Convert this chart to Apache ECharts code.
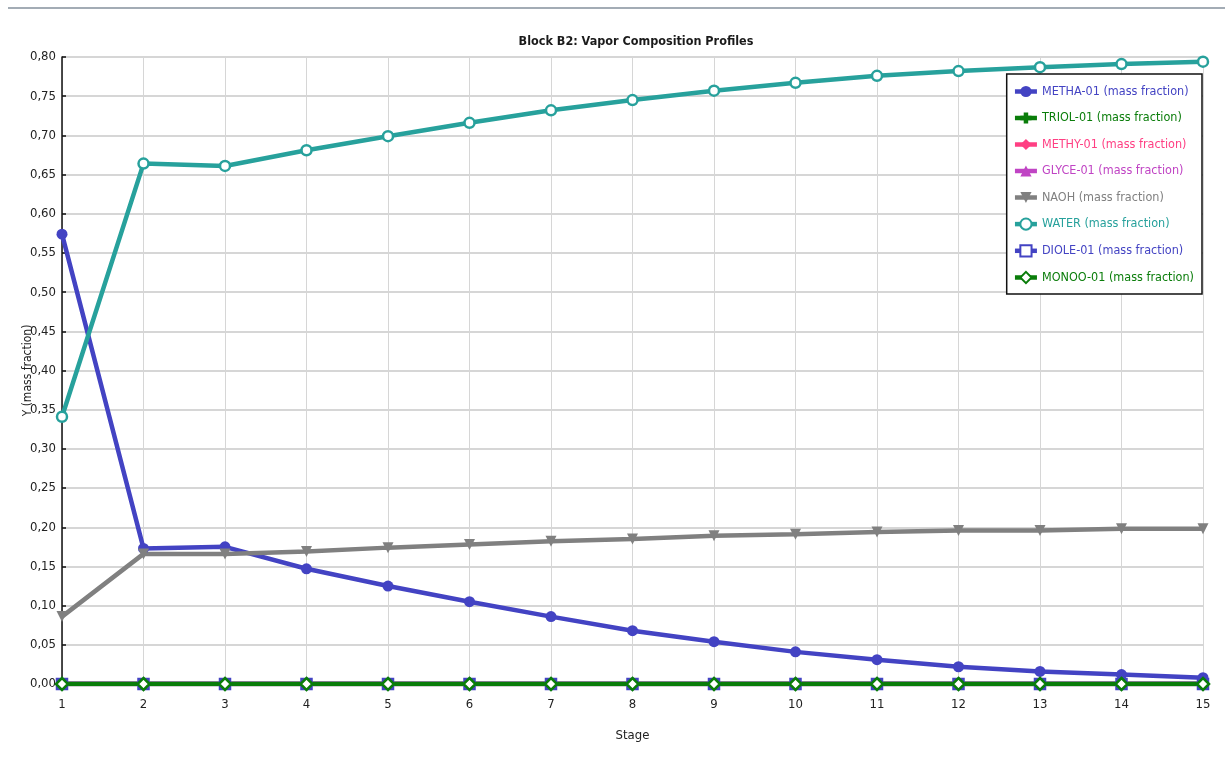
<!DOCTYPE html>
<html>
<head>
<meta charset="utf-8">
<script src="https://cdn.jsdelivr.net/npm/echarts@6/dist/echarts.min.js"></script>
<style>
  html, body { margin: 0; padding: 0; background: #fff; }
  #chart { width: 1225px; height: 760px; }
</style>
</head>
<body>
<div id="chart"></div>
<script>
var stages = [1, 2, 3, 4, 5, 6, 7, 8, 9, 10, 11, 12, 13, 14, 15];
var metha = [0.574, 0.173, 0.175, 0.147, 0.125, 0.105, 0.086, 0.068, 0.054, 0.041, 0.031, 0.022, 0.016, 0.012, 0.008];
var triol = [0, 0, 0, 0, 0, 0, 0, 0, 0, 0, 0, 0, 0, 0, 0];
var methy = [0, 0, 0, 0, 0, 0, 0, 0, 0, 0, 0, 0, 0, 0, 0];
var glyce = [0, 0, 0, 0, 0, 0, 0, 0, 0, 0, 0, 0, 0, 0, 0];
var naoh = [0.086, 0.166, 0.166, 0.169, 0.174, 0.178, 0.182, 0.185, 0.189, 0.191, 0.194, 0.196, 0.196, 0.198, 0.198];
var water = [0.341, 0.664, 0.661, 0.681, 0.699, 0.716, 0.732, 0.745, 0.757, 0.767, 0.776, 0.782, 0.787, 0.791, 0.794];
var diole = [0, 0, 0, 0, 0, 0, 0, 0, 0, 0, 0, 0, 0, 0, 0];
var monoo = [0, 0, 0, 0, 0, 0, 0, 0, 0, 0, 0, 0, 0, 0, 0];

var FONT = "'DejaVu Sans Condensed', 'Liberation Sans Narrow', 'Open Sans', sans-serif";
var plus = 'path://M3,0 H7 V3 H10 V7 H7 V10 H3 V7 H0 V3 H3 Z';

function pairs(vals) {
  return stages.map(function (s, i) { return [s, vals[i]]; });
}

function mk(name, vals, color, symbol, opts) {
  opts = opts || {};
  return {
    name: name,
    type: 'line',
    data: pairs(vals),
    symbol: symbol,
    symbolSize: opts.size || 10,
    symbolRotate: opts.rotate || 0,
    showAllSymbol: true,
    lineStyle: { color: color, width: 4.5 },
    itemStyle: {
      color: opts.fill || color,
      borderColor: color,
      borderWidth: opts.border || 0
    },
    emphasis: { disabled: true },
    animation: false
  };
}

var series = [
  mk('METHA-01 (mass fraction)', metha, '#4343c3', 'circle', { size: 11 }),
  mk('TRIOL-01 (mass fraction)', triol, '#0a7d0a', plus, { size: 11 }),
  mk('METHY-01 (mass fraction)', methy, '#ff3f83', 'diamond', { size: 11 }),
  mk('GLYCE-01 (mass fraction)', glyce, '#c044c4', 'triangle', { size: 11 }),
  mk('NAOH (mass fraction)', naoh, '#808080', 'triangle', { size: 11, rotate: 180 }),
  mk('WATER (mass fraction)', water, '#27a19c', 'circle', { size: 10, fill: '#ffffff', border: 2.5 }),
  mk('DIOLE-01 (mass fraction)', diole, '#4343c3', 'rect', { size: 10, fill: '#ffffff', border: 2.5 }),
  mk('MONOO-01 (mass fraction)', monoo, '#0a7d0a', 'diamond', { size: 12, fill: '#ffffff', border: 2.5 })
];

var legendColors = ['#4343c3', '#0a7d0a', '#ff3f83', '#c044c4', '#808080', '#27a19c', '#4343c3', '#0a7d0a'];

var chart = echarts.init(document.getElementById('chart'));
chart.setOption({
  backgroundColor: '#ffffff',
  animation: false,
  title: {
    text: 'Block B2: Vapor Composition Profiles',
    left: 631,
    top: 30,
    textAlign: 'center',
    textStyle: { fontFamily: FONT, fontSize: 12.5, fontWeight: 'bold', color: '#1a1a1a' }
  },
  graphic: [{
    type: 'line',
    shape: { x1: 8, y1: 8, x2: 1225, y2: 8 },
    style: { stroke: '#a3acb5', lineWidth: 2 }
  }],
  legend: {
    orient: 'vertical',
    right: 23,
    top: 74,
    padding: [11, 8, 10, 6],
    itemGap: 13.5,
    itemWidth: 22,
    itemHeight: 14,
    lineStyle: { width: 4.5 },
    backgroundColor: '#ffffff',
    borderColor: '#111',
    borderWidth: 1.5,
    borderRadius: 0,
    data: series.map(function (s, i) {
      return { name: s.name, textStyle: { color: legendColors[i] } };
    }),
    textStyle: { fontFamily: FONT, fontSize: 12.5, padding: [0, 0, 0, 0] }
  },
  grid: { left: 62, right: 22, top: 57, bottom: 76 },
  xAxis: {
    type: 'value',
    min: 1,
    max: 15,
    interval: 1,
    name: 'Stage',
    nameLocation: 'middle',
    nameGap: 45,
    nameTextStyle: { fontFamily: FONT, fontSize: 13, color: '#222' },
    axisLine: { show: true, onZero: false, lineStyle: { color: '#222' } },
    axisTick: { show: false },
    axisLabel: { fontFamily: FONT, fontSize: 13, color: '#222', margin: 14 },
    splitLine: { show: true, lineStyle: { color: '#d6d6d6', width: 1 } }
  },
  yAxis: {
    type: 'value',
    min: 0,
    max: 0.8,
    interval: 0.05,
    name: 'Y (mass fraction)',
    nameLocation: 'middle',
    nameGap: 28,
    nameMoveOverlap: false,
    nameTextStyle: { fontFamily: FONT, fontSize: 12, color: '#222' },
    axisLine: { show: true, lineStyle: { color: '#111', width: 1.5 } },
    axisTick: { show: true, inside: true, length: 4, lineStyle: { color: '#111', width: 1.5 } },
    axisLabel: {
      fontFamily: FONT, fontSize: 13, color: '#222', margin: 6,
      formatter: function (v) { return v.toFixed(2).replace('.', ','); }
    },
    splitLine: { show: true, lineStyle: { color: '#d6d6d6', width: 2 } }
  },
  series: series
});
</script>
</body>
</html>
